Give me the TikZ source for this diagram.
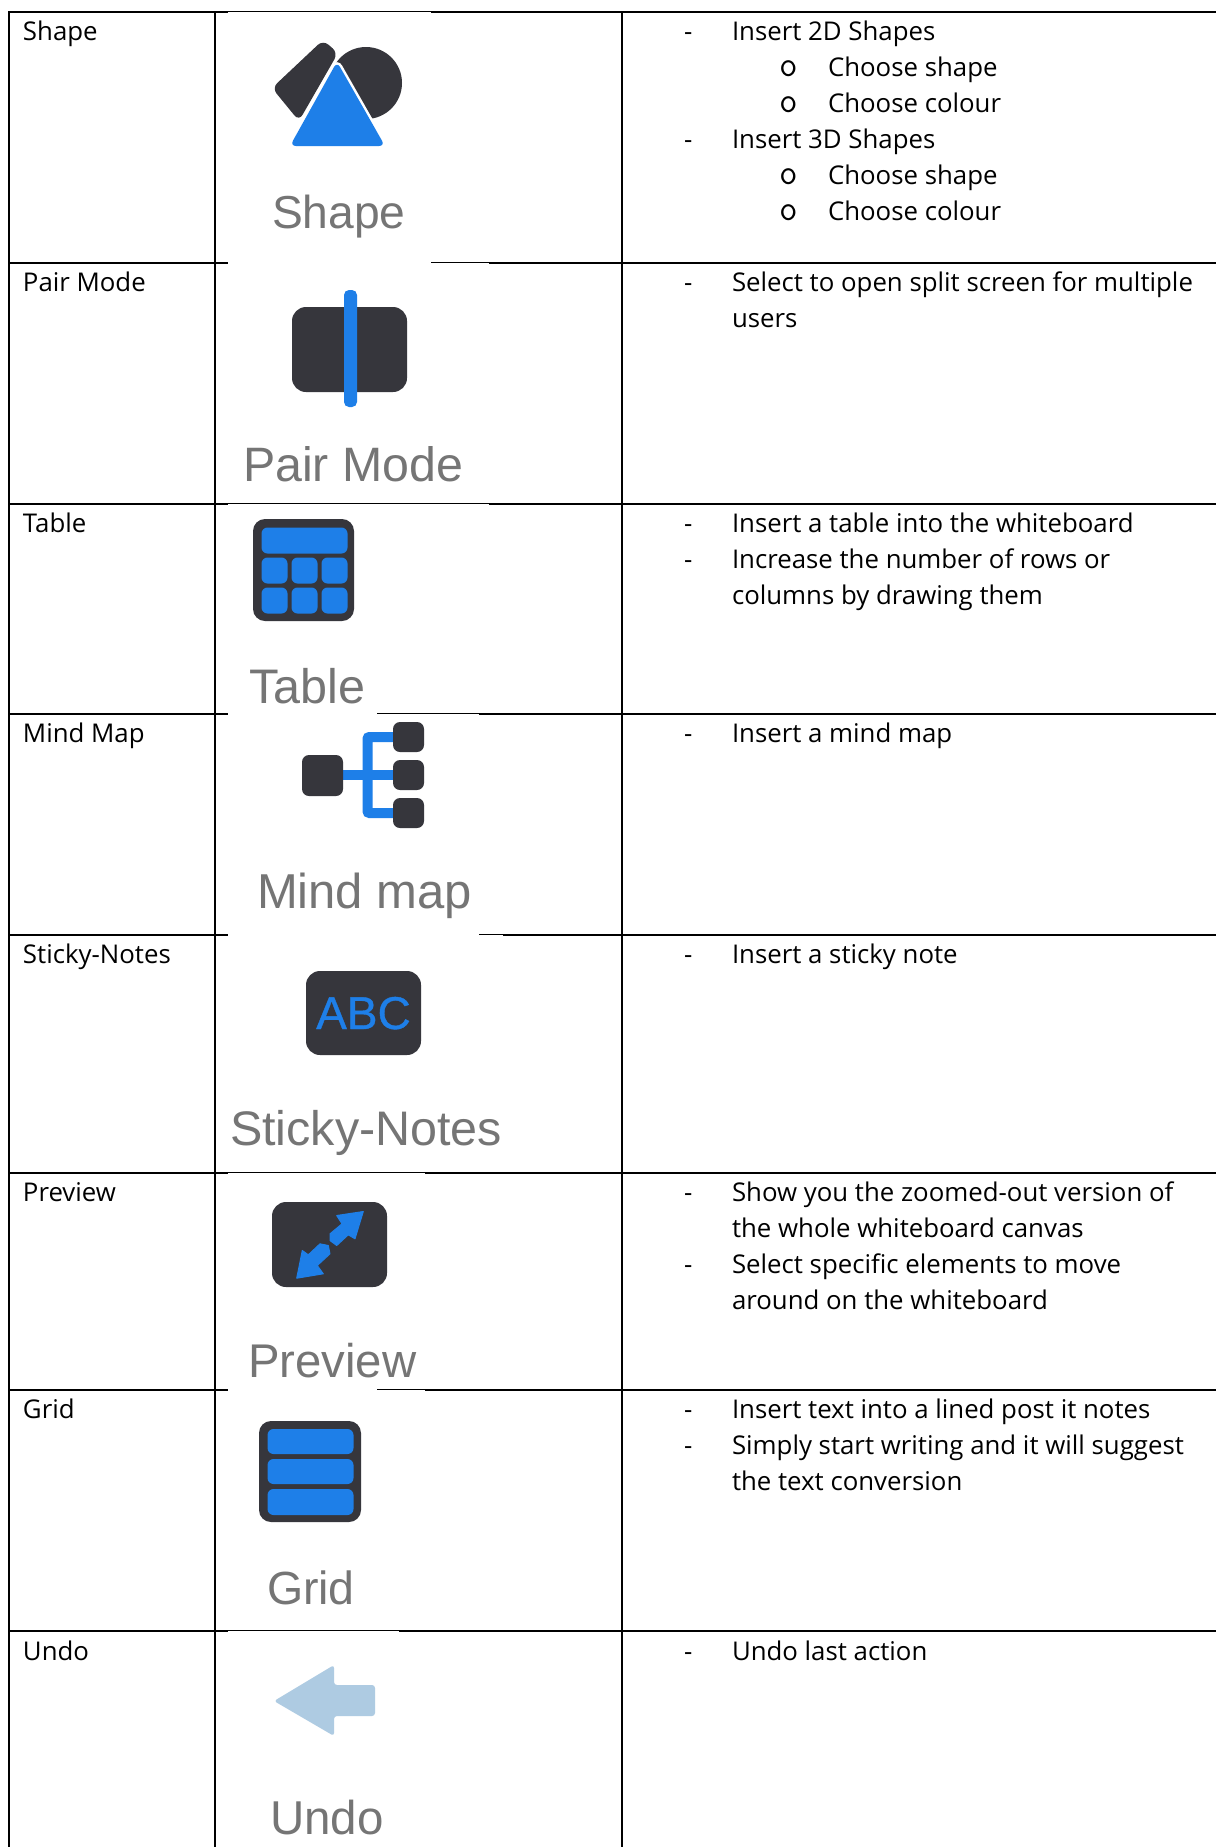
\documentclass[tikz,border=0pt]{standalone}
\usepackage{fontspec}
\setmainfont{Open Sans}
\newfontfamily\labelfont{Liberation Sans}
\newfontfamily\abcfont[BoldFont={Liberation Sans},BoldFeatures={FakeBold=0.8}]{Liberation Sans}
\definecolor{inkdark}{HTML}{36363C}
\definecolor{iconblue}{HTML}{1E7FE8}
\definecolor{labelgray}{HTML}{757575}
\definecolor{undoblue}{HTML}{AECBE2}
\tikzset{
  body/.style={anchor=base west,inner sep=0pt,outer sep=0pt,text=black,font=\fontsize{25.8}{36}\selectfont},
  ringmark/.style={anchor=base west,inner sep=0pt,outer sep=0pt,text=black,font=\ttfamily\fontsize{36}{36}\selectfont},
  iconlabel/.style={anchor=base west,inner sep=0pt,outer sep=0pt,text=labelgray,font=\labelfont\fontsize{#1}{50}\selectfont},
  rule/.style={draw=black,line width=2pt},
  thinrule/.style={draw=black,line width=1pt},
  dark/.style={fill=inkdark,draw=none},
  blue/.style={fill=iconblue,draw=none},
  wire/.style={draw=iconblue,line width=10pt},
}
\newcommand{\bul}[3]{% name, y, text  (dash level)
  \node[body] (#1d) at (684,#2) {-};
  \node[body] (#1) at (732,#2) {#3};}
\newcommand{\sbul}[3]{% name, y, text  (circle level)
  \node[ringmark] (#1d) at (779,#2) {o};
  \node[body] (#1) at (828,#2) {#3};}
\newcommand{\cont}[3]{\node[body] (#1) at (732,#2) {#3};}
\begin{document}
\begin{tikzpicture}[x=1pt,y=-1pt]
\useasboundingbox (0,0) rectangle (1216,1847);
\fill[white] (0,0) rectangle (1216,1847);
% ---------- table rules ----------
\draw[rule] (9,11) -- (9,1847);
\draw[rule] (215,11) -- (215,1847);
\draw[rule] (622,11) -- (622,1847);
% top
\draw[rule] (8,12) -- (228,12);
\draw[thinrule] (228,11.5) -- (431,11.5);
\draw[rule] (431,12) -- (1216,12);
% 263
\draw[rule] (8,263) -- (228,263);
\draw[thinrule] (431,262.5) -- (489,262.5);
\draw[rule] (489,263) -- (1216,263);
% 504
\draw[rule] (8,504) -- (228,504);
\draw[thinrule] (228,503.5) -- (489,503.5);
\draw[rule] (489,504) -- (1216,504);
% 713
\draw[rule] (8,713.5) -- (228,713.5);
\draw[thinrule] (377,713) -- (479,713);
\draw[rule] (479,713.5) -- (1216,713.5);
% 934
\draw[rule] (8,934.5) -- (228,934.5);
\draw[thinrule] (479,934) -- (503,934);
\draw[rule] (503,934.5) -- (1216,934.5);
% 1172
\draw[rule] (8,1172.5) -- (228,1172.5);
\draw[thinrule] (228,1172) -- (425,1172);
\draw[rule] (425,1172.5) -- (1216,1172.5);
% 1389
\draw[rule] (8,1389.5) -- (228,1389.5);
\draw[thinrule] (377,1389) -- (425,1389);
\draw[rule] (425,1389.5) -- (1216,1389.5);
% 1631
\draw[rule] (8,1631) -- (228,1631);
\draw[thinrule] (228,1630.5) -- (399,1630.5);
\draw[rule] (399,1631) -- (1216,1631);
% ---------- first column ----------
\node[body] (n1) at (23,40) {Shape};
\node[body] (n2) at (23,291.5) {Pair Mode};
\node[body] (n3) at (23,532.5) {Table};
\node[body] (n4) at (23,742) {Mind Map};
\node[body] (n5) at (23,963.5) {Sticky-Notes};
\node[body] (n6) at (23,1201) {Preview};
\node[body] (n7) at (23,1418.5) {Grid};
\node[body] (n8) at (23,1660) {Undo};
% ---------- third column ----------
\bul{a1}{40}{Insert 2D Shapes}
\sbul{a2}{76}{Choose shape}
\sbul{a3}{112}{Choose colour}
\bul{a4}{148}{Insert 3D Shapes}
\sbul{a5}{184}{Choose shape}
\sbul{a6}{220}{Choose colour}
\bul{b1}{291.5}{Select to open split screen for multiple}
\cont{b2}{327.5}{users}
\bul{c1}{532.5}{Insert a table into the whiteboard}
\bul{c2}{568.5}{Increase the number of rows or}
\cont{c3}{604.5}{columns by drawing them}
\bul{d1}{742}{Insert a mind map}
\bul{e1}{963.5}{Insert a sticky note}
\bul{f1}{1201}{Show you the zoomed-out version of}
\cont{f2}{1237}{the whole whiteboard canvas}
\bul{f3}{1273}{Select specific elements to move}
\cont{f4}{1309}{around on the whiteboard}
\bul{g1}{1418.5}{Insert text into a lined post it notes}
\bul{g2}{1454.5}{Simply start writing and it will suggest}
\cont{g3}{1490.5}{the text conversion}
\bul{h1}{1660}{Undo last action}
% ---------- Shape icon ----------
\fill[inkdark,rounded corners=7pt] (323,40) -- (338,53) -- (299,121) -- (272,88) -- cycle;
\fill[inkdark] (366,83) circle (36);
\draw[white,line width=5pt,rounded corners=6pt] (337,61.7) -- (385,146) -- (290,146) -- cycle;
\fill[iconblue,rounded corners=6pt] (337,61.7) -- (385,146) -- (290,146) -- cycle;
\node[iconlabel=46.2] (l1) at (272,228) {Shape};
% ---------- Pair Mode icon ----------
\fill[dark,rounded corners=14pt] (292,307) rectangle (407,392);
\fill[blue,rounded corners=5pt] (344,290) rectangle (357,407);
\node[iconlabel=48.3] (l2) at (243,481) {Pair Mode};
% ---------- Table icon ----------
\fill[dark,rounded corners=12pt] (253,519) rectangle (354,621);
\fill[blue,rounded corners=6pt] (261.5,527.5) rectangle (347.5,553.5);
\foreach \cx in {261.5,291.5,321.5}\foreach \cy in {557.5,587.5}
  \fill[blue,rounded corners=6pt] (\cx,\cy) rectangle ++(26,26);
\node[iconlabel=48.5] (l3) at (249,703) {Table};
% ---------- Mind map icon ----------
\draw[wire,rounded corners=2pt] (393,737) -- (367.5,737) -- (367.5,813) -- (393,813);
\draw[wire] (343,775) -- (393,775);
\fill[dark,rounded corners=7pt] (302,755) rectangle (343,796);
\foreach \cy in {722,760,798}
  \fill[dark,rounded corners=7pt] (393,\cy) rectangle ++(31,30);
\node[iconlabel=49] (l4) at (257,908) {Mind map};
% ---------- Sticky-Notes icon ----------
\fill[dark,rounded corners=14pt] (306,971) rectangle (421,1055);
\node[anchor=base,inner sep=0pt,text=iconblue,font=\abcfont\bfseries\fontsize{46}{50}\selectfont] (abc) at (363.5,1029) {ABC};
\node[iconlabel=48.5] (l5) at (230,1145) {Sticky-Notes};
% ---------- Preview icon ----------
\fill[dark,rounded corners=14pt] (272,1202) rectangle (387,1287);
\filldraw[fill=iconblue,draw=iconblue,line width=1pt,line join=round] (363.3,1211.5) -- (336.7,1215.5) -- (342,1223.8) -- (330,1233.8) -- (330,1240.5) -- (336.7,1245.5) -- (348.3,1234.8) -- (355,1238.8) -- cycle;
\filldraw[fill=iconblue,draw=iconblue,line width=1pt,line join=round] (296.7,1278.2) -- (323.3,1273.8) -- (317.3,1265.5) -- (330,1253.8) -- (328.3,1245.5) -- (320,1243.8) -- (308.3,1254.8) -- (302.3,1250.5) -- cycle;
\node[iconlabel=47.3] (l6) at (248,1377) {Preview};
% ---------- Grid icon ----------
\fill[dark,rounded corners=12pt] (259,1421) rectangle (361,1522);
\fill[blue,rounded corners=6pt] (267.5,1429) rectangle (353.5,1454);
\fill[blue,rounded corners=6pt] (267.5,1459) rectangle (353.5,1484);
\fill[blue,rounded corners=6pt] (267.5,1489) rectangle (353.5,1515);
\node[iconlabel=46.5] (l7) at (267,1604) {Grid};
% ---------- Undo icon ----------
\fill[undoblue,rounded corners=3pt] (274,1701) -- (334,1665) -- (334,1685) -- (375,1685) -- (375,1716) -- (334,1716) -- (334,1736) -- cycle;
\node[iconlabel=47.5] (l8) at (270,1834) {Undo};
\end{tikzpicture}
\end{document}
